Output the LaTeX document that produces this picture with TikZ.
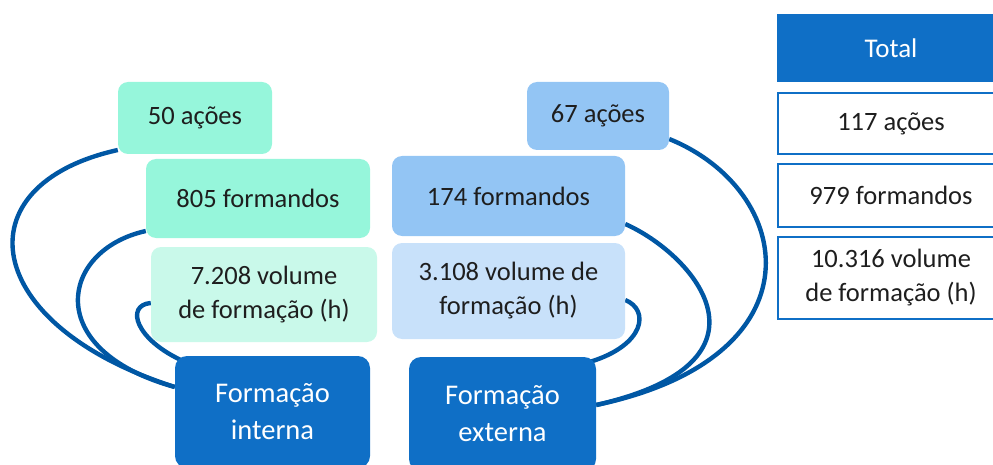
\documentclass[tikz,border=0pt]{standalone}
\usepackage{fontspec}
\setmainfont{Carlito}
\usetikzlibrary{calc,backgrounds}
\definecolor{mintA}{HTML}{96F6DB}
\definecolor{mintB}{HTML}{C9F9EA}
\definecolor{blueA}{HTML}{93C5F4}
\definecolor{blueB}{HTML}{C8E1FA}
\definecolor{darkfill}{HTML}{0F6FC6}
\definecolor{curvecol}{HTML}{0057A4}
\definecolor{txt}{HTML}{1E1E1E}
\tikzset{
  box/.style={rounded corners=10pt, inner sep=0pt, align=center, text=txt,
    font=\fontsize{26.5}{34}\selectfont},
  bigbox/.style={rounded corners=12pt, fill=darkfill, inner sep=0pt, align=center,
    text=white, font=\fontsize{28.5}{37}\selectfont},
  totbox/.style={fill=darkfill, inner sep=0pt, text=white, align=center,
    font=\fontsize{27}{34}\selectfont},
  wbox/.style={draw=darkfill, line width=2.2pt, fill=white, inner sep=0pt,
    align=center, text=txt, font=\fontsize{26.5}{34}\selectfont},
  link/.style={draw=curvecol, line width=4.4pt}
}
\begin{document}
\begin{tikzpicture}[x=1pt,y=-1pt]
\useasboundingbox (0,0) rectangle (993,465);
\clip (0,0) rectangle (993,465);
% left column
\node[box, fill=mintA, minimum width=154pt, minimum height=72pt] (a50) at (195,118) {50 ações};
\node[box, fill=mintA, minimum width=224pt, minimum height=79pt] (f805) at (258,198.5) {805 formandos};
\node[box, fill=mintB, minimum width=226pt, minimum height=95pt] (v7208) at (264,294.5) {7.208 volume\\de formação (h)};
\node[bigbox, minimum width=195pt, minimum height=112pt] (fi) at (272.5,412) {Formação\\interna};
% right column
\node[box, fill=blueA, minimum width=142pt, minimum height=68pt] (a67) at (598,116) {67 ações};
\node[box, fill=blueA, minimum width=233pt, minimum height=80pt] (f174) at (508.5,196) {174 formandos};
\node[box, fill=blueB, minimum width=233pt, minimum height=96pt] (v3108) at (508.5,291) {3.108 volume de\\formação (h)};
\node[bigbox, minimum width=187pt, minimum height=114pt] (fe) at (502.5,414) {Formação\\externa};
% totals
\node[totbox, minimum width=228pt, minimum height=68pt] (tot) at (891,48) {Total};
\node[wbox, minimum width=226pt, minimum height=61pt] (t117) at (891,123.5) {117 ações};
\node[wbox, minimum width=226pt, minimum height=63pt] (t979) at (891,195.5) {979 formandos};
\node[wbox, minimum width=226pt, minimum height=82pt] (t10316) at (891,278) {10.316 volume\\de formação (h)};
% connectors
\begin{pgfonlayer}{background}
\path[link] ([yshift=-32pt]a50.west) .. controls (-40,185) and (-20,325) .. ([yshift=25pt]fi.west);
\path[link] ([yshift=-32.5pt]f805.west) .. controls (60,250) and (41,350) .. ([yshift=25pt]fi.west);
\path[link] ([yshift=-8.5pt]v7208.west) .. controls (125,305) and (135,340) .. ([xshift=10pt,yshift=-6pt]fi.north west);
\path[link] ([yshift=-23pt]a67.east) .. controls (795,190) and (824,357) .. ([yshift=9pt]fe.east);
\path[link] ([yshift=-28pt]f174.east) .. controls (695,255) and (786,362) .. ([yshift=9pt]fe.east);
\path[link] ([yshift=-9pt]v3108.east) .. controls (650,310) and (645,345) .. ([xshift=-6pt,yshift=-5pt]fe.north east);
\end{pgfonlayer}
\end{tikzpicture}
\end{document}
